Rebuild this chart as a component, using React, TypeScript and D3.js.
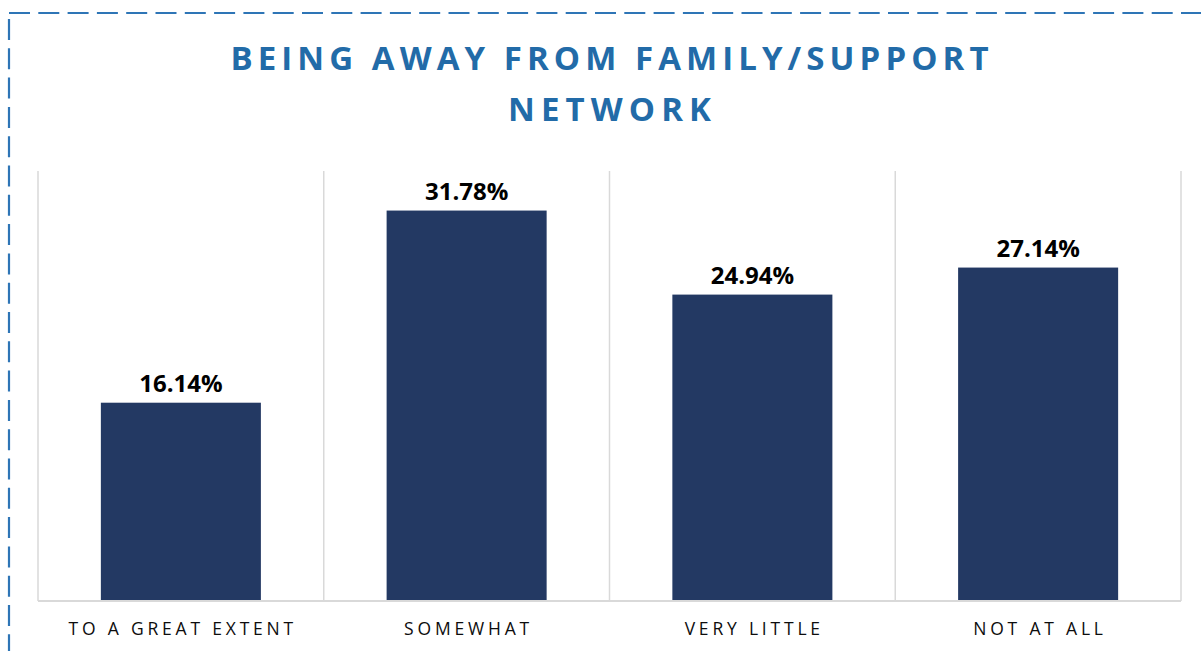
import React from "react";
import * as d3 from "d3";

const categories = ["TO A GREAT EXTENT", "SOMEWHAT", "VERY LITTLE", "NOT AT ALL"];
const values = [16.14, 31.78, 24.94, 27.14];
const valueLabels = ["16.14%", "31.78%", "24.94%", "27.14%"];
const titleLines = ["BEING AWAY FROM FAMILY/SUPPORT", "NETWORK"];
const yDomain = [0, 35];

const W = 1201;
const H = 651;
const plot = { left: 38, right: 1181, top: 171, bottom: 601 };

export default function App() {
  const x = d3
    .scaleBand<string>()
    .domain(categories)
    .range([plot.left, plot.right])
    .paddingInner(0.44)
    .paddingOuter(0.22);
  const y = d3.scaleLinear().domain(yDomain).range([plot.bottom, plot.top]);
  const step = x.step();
  const boundaries = d3.range(categories.length + 1).map((i) => plot.left + i * step);
  const cx = (plot.left + plot.right) / 2;
  const catSpacing = 3.8;

  return (
    <div style={{ position: "absolute", left: 0, top: 0 }}>
      <svg width={W} height={H} style={{ display: "block", background: "#fff" }}>
        {/* dashed border */}
        <line x1={9} y1={13} x2={W + 20} y2={13} stroke="#2E75B6" strokeWidth={2.2} strokeDasharray="21 8.3" />
        <line x1={9} y1={19} x2={9} y2={H + 20} stroke="#2E75B6" strokeWidth={2.2} strokeDasharray="21 8.3" />

        {/* title */}
        <g fontFamily="'Open Sans', sans-serif" fontWeight={700} fontSize={33} fill="#226BA8" textAnchor="middle">
          <text x={cx} y={70} textLength={758} lengthAdjust="spacing">
            {titleLines[0]}
          </text>
          <text x={cx} y={121} textLength={203} lengthAdjust="spacing">
            {titleLines[1]}
          </text>
        </g>

        {/* vertical category gridlines */}
        {boundaries.map((bx, i) => (
          <line key={i} x1={bx} x2={bx} y1={plot.top} y2={plot.bottom} stroke="#D9D9D9" strokeWidth={1.5} />
        ))}

        {/* bars */}
        {categories.map((c, i) => (
          <rect
            key={c}
            x={x(c)}
            y={y(values[i])}
            width={x.bandwidth()}
            height={y(0) - y(values[i])}
            fill="#233963"
          />
        ))}

        {/* axis line */}
        <line x1={plot.left} x2={plot.right} y1={plot.bottom} y2={plot.bottom} stroke="#D9D9D9" strokeWidth={2} />

        {/* value labels */}
        {categories.map((c, i) => (
          <text
            key={c}
            x={(x(c) as number) + x.bandwidth() / 2}
            y={y(values[i]) - 11}
            textAnchor="middle"
            fontFamily="'Open Sans', sans-serif"
            fontWeight={700}
            fontSize={24}
            fill="#000"
          >
            {valueLabels[i]}
          </text>
        ))}

        {/* category labels */}
        {categories.map((c, i) => (
          <text
            key={c}
            x={(x(c) as number) + x.bandwidth() / 2 + catSpacing / 2}
            y={635}
            textAnchor="middle"
            fontFamily="'Open Sans', sans-serif"
            fontSize={17.5}
            letterSpacing={catSpacing}
            fill="#0D0D0D"
          >
            {c}
          </text>
        ))}
      </svg>
    </div>
  );
}
